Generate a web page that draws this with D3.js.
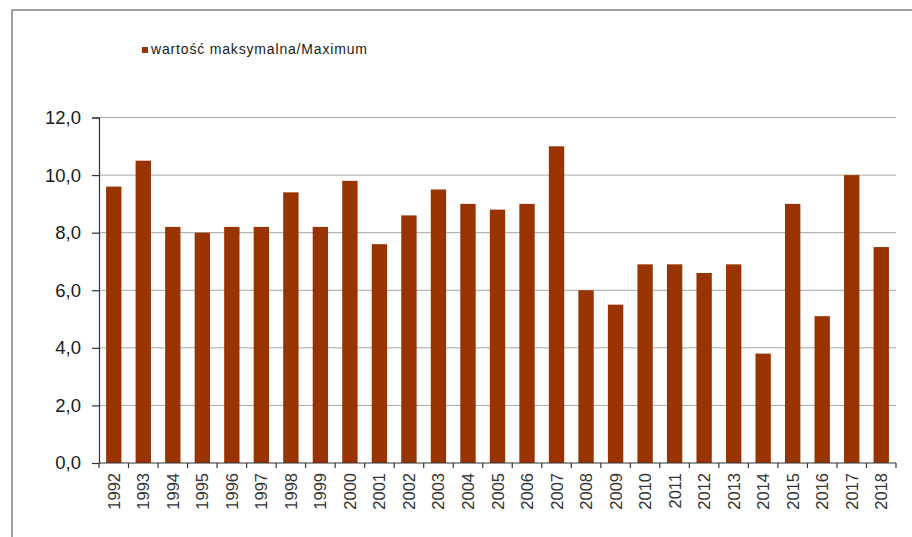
<!DOCTYPE html>
<html>
<head>
<meta charset="utf-8">
<script src="https://cdn.jsdelivr.net/npm/d3@7"></script>
<style>
  html, body { margin: 0; padding: 0; background: #fff; }
  svg { display: block; }
</style>
</head>
<body>
<svg id="chart" width="912" height="537"></svg>
<script>
const years = ["1992","1993","1994","1995","1996","1997","1998","1999","2000","2001","2002","2003","2004","2005","2006","2007","2008","2009","2010","2011","2012","2013","2014","2015","2016","2017","2018"];
const maxValues = [9.6,10.5,8.2,8.0,8.2,8.2,9.4,8.2,9.8,7.6,8.6,9.5,9.0,8.8,9.0,11.0,6.0,5.5,6.9,6.9,6.6,6.9,3.8,9.0,5.1,10.0,7.5];
const yTicks = [0,2,4,6,8,10,12];
const legendLabel = "wartość maksymalna/Maximum";

(function () {
const svg = d3.select("#chart");
const pL = 99, pR = 896, pT = 117.5, pB = 463;
const barColor = "#993300";
const font = "Liberation Sans, Arial, sans-serif";

// outer frame (top and left)
svg.append("line").attr("x1", 12).attr("x2", 912).attr("y1", 10).attr("y2", 10)
  .attr("stroke", "#7f7f7f").attr("stroke-width", 1.5);
svg.append("line").attr("x1", 12).attr("x2", 12).attr("y1", 10).attr("y2", 537)
  .attr("stroke", "#7f7f7f").attr("stroke-width", 1.5);

const x = d3.scaleBand().domain(years).range([pL, pR]).paddingInner(0.48).paddingOuter(0.24);
const y = d3.scaleLinear().domain([0, 12]).range([pB, pT]);

// gridlines
svg.append("g").selectAll("line").data(yTicks.filter(d => d > 0)).join("line")
  .attr("x1", pL).attr("x2", pR)
  .attr("y1", d => y(d)).attr("y2", d => y(d))
  .attr("stroke", "#a6a6a6").attr("stroke-width", 1);

// bars
svg.append("g").selectAll("rect").data(years).join("rect")
  .attr("x", d => x(d))
  .attr("width", x.bandwidth())
  .attr("y", (d, i) => y(maxValues[i]))
  .attr("height", (d, i) => pB - y(maxValues[i]))
  .attr("fill", barColor);

// y axis
const yAxis = d3.axisLeft(y).tickValues(yTicks).tickSize(7).tickPadding(11)
  .tickFormat(d => d3.format(".1f")(d).replace(".", ","));
const gy = svg.append("g").attr("transform", `translate(${pL},0)`).call(yAxis);
gy.select(".domain").attr("stroke", "#333").attr("stroke-width", 1.2);
gy.selectAll(".tick line").attr("stroke", "#333").attr("stroke-width", 1.2);
gy.selectAll("text").attr("font-family", font)
  .attr("font-size", 18.5).attr("fill", "#1a1a1a");

// x axis line with ticks between categories
const gx = svg.append("g");
gx.append("line").attr("x1", pL).attr("x2", pR).attr("y1", pB).attr("y2", pB)
  .attr("stroke", "#333").attr("stroke-width", 1.2);
const boundaries = d3.range(years.length + 1).map(i => pL + i * (pR - pL) / years.length);
gx.selectAll("line.tk").data(boundaries).join("line").attr("class", "tk")
  .attr("x1", d => d).attr("x2", d => d).attr("y1", pB).attr("y2", pB + 5)
  .attr("stroke", "#333").attr("stroke-width", 1.2);
gx.selectAll("text").data(years).join("text")
  .attr("transform", d => `translate(${x(d) + x.bandwidth() / 2 + 6},${pB + 10}) rotate(-90)`)
  .attr("text-anchor", "end")
  .attr("font-family", font)
  .attr("font-size", 16.5).attr("fill", "#333")
  .text(d => d);

// legend
svg.append("rect").attr("x", 142).attr("y", 47).attr("width", 6).attr("height", 6).attr("fill", barColor);
svg.append("text").attr("x", 151).attr("y", 54)
  .attr("font-family", font)
  .attr("font-size", 14).attr("fill", "#1a1a1a")
  .attr("textLength", 216)
  .text(legendLabel);
})();
</script>
</body>
</html>
